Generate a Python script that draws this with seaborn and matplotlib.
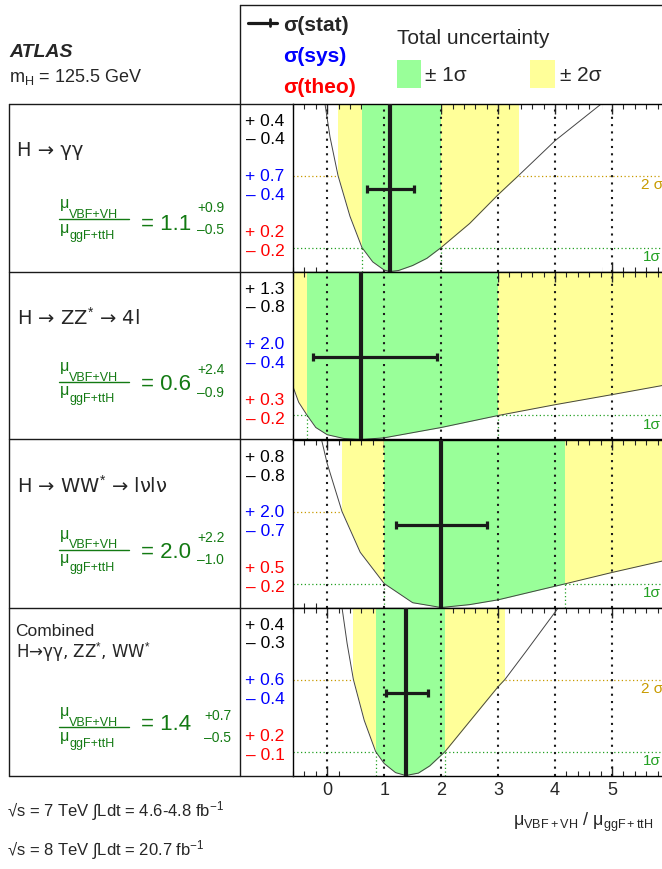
import numpy as np
import matplotlib.pyplot as plt
from matplotlib.lines import Line2D
from matplotlib.patches import Rectangle
import seaborn as sns

# ---- data ----
channels = ["H → γγ", "H → ZZ$^{*}$ → 4l", "H → WW$^{*}$ → lνlν", "Combined"]
best_fit = [1.1, 0.6, 2.0, 1.38]
best_label = ["1.1", "0.6", "2.0", "1.4"]
tot_up = ["+0.9", "+2.4", "+2.2", "+0.7"]
tot_dn = ["–0.5", "–0.9", "–1.0", "–0.5"]

stat_up = [0.4, 1.3, 0.8, 0.4]
stat_dn = [0.4, 0.8, 0.8, 0.3]
sys_up = [0.7, 2.0, 2.0, 0.6]
sys_dn = [0.4, 0.4, 0.7, 0.4]
theo_up = [0.2, 0.3, 0.5, 0.2]
theo_dn = [0.2, 0.2, 0.2, 0.1]

# stat error bar ends
stat_lo = [0.7, -0.25, 1.2, 1.03]
stat_hi = [1.53, 1.93, 2.8, 1.77]

# total uncertainty bands
one_lo = [0.61, -0.35, 1.0, 0.85]
one_hi = [2.0, 3.0, 4.18, 2.07]
two_lo = [0.19, -0.6, 0.26, 0.46]
two_hi = [3.36, 6.0, 6.0, 3.12]

# likelihood scans (-2 ln Lambda)
scan_x_gg = [-0.04, 0.05, 0.19, 0.4, 0.61, 0.8, 1.0, 1.1, 1.25, 1.5, 1.75, 2.0, 2.5, 3.0, 3.36, 4.0, 4.82]
scan_y_gg = [7.0, 5.6, 4.0, 2.3, 1.0, 0.4, 0.06, 0.0, 0.04, 0.25, 0.55, 1.0, 2.0, 3.2, 4.0, 5.45, 7.0]
scan_x_zz = [-0.6, -0.5, -0.35, -0.2, 0.0, 0.3, 0.6, 1.0, 2.0, 3.0, 4.0, 5.0, 6.0]
scan_y_zz = [2.2, 1.55, 1.0, 0.5, 0.2, 0.04, 0.0, 0.07, 0.5, 1.0, 1.45, 1.87, 2.3]
scan_x_ww = [-0.1, 0.0, 0.26, 0.58, 1.0, 1.5, 2.0, 2.5, 3.0, 4.2, 5.0, 6.0]
scan_y_ww = [7.0, 6.0, 4.0, 2.3, 1.0, 0.2, 0.0, 0.12, 0.32, 1.0, 1.46, 2.0]
scan_x_comb = [0.26, 0.35, 0.46, 0.65, 0.85, 1.0, 1.2, 1.38, 1.6, 1.8, 2.07, 2.5, 3.0, 3.12, 3.5, 4.06]
scan_y_comb = [7.0, 5.5, 4.0, 2.3, 1.0, 0.5, 0.12, 0.0, 0.1, 0.4, 1.0, 2.25, 3.7, 4.0, 5.2, 7.0]
scan_x = [scan_x_gg, scan_x_zz, scan_x_ww, scan_x_comb]
scan_y = [scan_y_gg, scan_y_zz, scan_y_ww, scan_y_comb]

# ---- style ----
sns.set_theme(style="ticks", rc={"axes.edgecolor": "black", "axes.linewidth": 1.0})
plt.rcParams["font.family"] = ["Liberation Sans", "DejaVu Sans"]
plt.rcParams["mathtext.fontset"] = "custom"
plt.rcParams["mathtext.rm"] = "Liberation Sans"
plt.rcParams["mathtext.it"] = "Liberation Sans:italic"
plt.rcParams["mathtext.bf"] = "Liberation Sans:bold"

GREEN = "#99ff99"
YELLOW = "#ffff99"
TXT_GREEN = "#137a13"
L1_GREEN = "#22a022"
L2_GOLD = "#c89b00"

W, H = 662, 869
fig = plt.figure(figsize=(W / 100, H / 100), dpi=100)


def fx(px):
    return px / W


def fy(py):
    return 1 - py / H


def fline(x0, x1, y0, y1, color="k", lw=1.0):
    fig.add_artist(Line2D([fx(x0), fx(x1)], [fy(y0), fy(y1)], color=color, lw=lw))


row_top = [103.5, 271.5, 439.5, 607.5]
row_h = 168
x0, x1 = -0.6, 6.0

for i in range(4):
    top = row_top[i]
    ax = fig.add_axes([fx(293), fy(top + row_h), (669 - 293) / W, row_h / H])
    ax.set_xlim(x0, x1)
    ax.set_ylim(0, 7)

    ax.axvspan(two_lo[i], two_hi[i], color=YELLOW, lw=0, zorder=0.5)
    ax.axvspan(one_lo[i], one_hi[i], color=GREEN, lw=0, zorder=0.6)
    ax.fill_between(scan_x[i], 0, scan_y[i], color="white", lw=0, zorder=0.8)

    # 1 sigma / 2 sigma reference lines outside the bands
    for level, lo, hi, col in ((1, one_lo[i], one_hi[i], L1_GREEN), (4, two_lo[i], two_hi[i], L2_GOLD)):
        if lo > x0:
            ax.hlines(level, x0, lo, colors=col, lw=0.9, linestyles=(0, (1, 2)), zorder=1.5)
        if hi < x1:
            ax.hlines(level, hi, x1, colors=col, lw=0.9, linestyles=(0, (1, 2)), zorder=1.5)
    drops = [v for v in (one_lo[i], one_hi[i]) if x0 < v < x1]
    ax.vlines(drops, 0, 1, colors=L1_GREEN, lw=0.9, linestyles=(0, (1, 2)), zorder=1.5)

    ax.vlines(range(6), 0, 7, colors="k", lw=1.5, linestyles=(0, (1, 2.5)), zorder=2)

    sns.lineplot(x=scan_x[i], y=scan_y[i], ax=ax, color="#444444", lw=0.7,
                 sort=False, errorbar=None, zorder=2.5)

    ax.vlines(best_fit[i], 0, 7, colors="k", lw=3, zorder=3)
    ax.hlines(3.45, stat_lo[i], stat_hi[i], colors="k", lw=2.3, zorder=3)
    ax.vlines([stat_lo[i], stat_hi[i]], 3.28, 3.62, colors="k", lw=2.3, zorder=3)

    ax.text(5.55, 0.88, "1σ", color=L1_GREEN, fontsize=11, va="top", ha="left", zorder=4)
    if two_hi[i] < x1:
        ax.text(5.5, 3.88, "2 σ", color=L2_GOLD, fontsize=11, va="top", ha="left", zorder=4)

    ax.set_xticks(range(6))
    ax.set_xticks(np.arange(-6, 60, 2) / 10, minor=True)
    ax.set_yticks([])
    ax.tick_params(which="major", direction="in", length=7, width=1, top=True, bottom=True,
                   labelbottom=(i == 3), labelsize=13, pad=5)
    ax.tick_params(which="minor", direction="in", length=3.5, width=0.8, top=True, bottom=True)
    ax.set_xlabel("")
    ax.set_ylabel("")

    # uncertainty numbers column
    nums = [(f"+ {stat_up[i]:.1f}", "black", 22.7), (f"– {stat_dn[i]:.1f}", "black", 41),
            (f"+ {sys_up[i]:.1f}", "#0000ff", 77.7), (f"– {sys_dn[i]:.1f}", "#0000ff", 96),
            (f"+ {theo_up[i]:.1f}", "#ff0000", 133.3), (f"– {theo_dn[i]:.1f}", "#ff0000", 152.7)]
    for s, c, off in nums:
        fig.text(fx(284.5), fy(top + off), s, ha="right", va="baseline", color=c, fontsize=12.5)

    # channel label
    if i < 3:
        fig.text(fx(17), fy(top + 52.5), channels[i], fontsize=14, va="baseline",
                 family=["DejaVu Sans"])
    else:
        fig.text(fx(15.5), fy(top + 28.5), "Combined", fontsize=12.5, va="baseline")
        fig.text(fx(15.5), fy(top + 50), "H→γγ, ZZ$^{*}$, WW$^{*}$", fontsize=12, va="baseline",
                 family=["DejaVu Sans"])

    # mu ratio value
    line_off = [115, 110, 110, 119][i]
    val_dy = [11, 9, 9, 4][i]
    sup_x = [197, 197, 197, 204][i]
    yl = top + line_off
    fline(59, 129, yl, yl, color=TXT_GREEN)
    fig.text(fx(60), fy(yl - 10.5), "μ", color=TXT_GREEN, fontsize=11.5, va="baseline")
    fig.text(fx(68.5), fy(yl - 1), "VBF+VH", color=TXT_GREEN, fontsize=9, va="baseline")
    fig.text(fx(60), fy(yl + 14), "μ", color=TXT_GREEN, fontsize=11.5, va="baseline")
    fig.text(fx(70), fy(yl + 21), "ggF+ttH", color=TXT_GREEN, fontsize=9, va="baseline")
    fig.text(fx(141), fy(yl + val_dy), "= " + best_label[i], color=TXT_GREEN, fontsize=16, va="baseline")
    fig.text(fx(sup_x), fy(yl - 7), tot_up[i], color=TXT_GREEN, fontsize=10, va="baseline")
    fig.text(fx(sup_x), fy(yl + 15), tot_dn[i], color=TXT_GREEN, fontsize=10, va="baseline")

# x axis label
fig.text(fx(653), fy(826), r"$\mathrm{\mu}_{\mathrm{VBF+VH}}$ / $\mathrm{\mu}_{\mathrm{ggF+ttH}}$",
         ha="right", va="baseline", fontsize=13)

# frames
fline(240, 662, 5, 5)
fline(240, 240, 5, 775.5)
fline(9, 9, 103.5, 775.5)
for yb in row_top + [775.5]:
    fline(9, 293, yb, yb)

# header
fig.text(fx(9), fy(56.7), "ATLAS", fontsize=14, fontweight="bold", fontstyle="italic", va="baseline")
fig.text(fx(9), fy(81.7), "m$_{\\mathrm{H}}$ = 125.5 GeV", fontsize=13, va="baseline")

fline(248, 277, 22.5, 22.5, lw=2.3)
fline(270, 270, 19, 26, lw=2)
fig.text(fx(283), fy(30.7), "σ(stat)", fontsize=15, fontweight="bold", va="baseline")
fig.text(fx(283), fy(61.7), "σ(sys)", fontsize=15, fontweight="bold", color="#0000ff", va="baseline")
fig.text(fx(283), fy(92.7), "σ(theo)", fontsize=15, fontweight="bold", color="#ff0000", va="baseline")
fig.text(fx(397), fy(43.5), "Total uncertainty", fontsize=15, va="baseline")
fig.add_artist(Rectangle((fx(396.5), fy(88.3)), (421 - 396.5) / W, 28.3 / H, color=GREEN, lw=0))
fig.add_artist(Rectangle((fx(530), fy(88.3)), (555 - 530) / W, 28.3 / H, color=YELLOW, lw=0))
fig.text(fx(425), fy(81), "± 1σ", fontsize=15, va="baseline")
fig.text(fx(560), fy(81), "± 2σ", fontsize=15, va="baseline")

# energy / lumi
fig.text(fx(7), fy(816.7), "√s = 7 TeV ∫Ldt = 4.6-4.8 fb$^{-1}$", fontsize=12, va="baseline")
fig.text(fx(7), fy(855), "√s = 8 TeV ∫Ldt = 20.7 fb$^{-1}$", fontsize=12, va="baseline")

fig.savefig("out.png", dpi=100)
